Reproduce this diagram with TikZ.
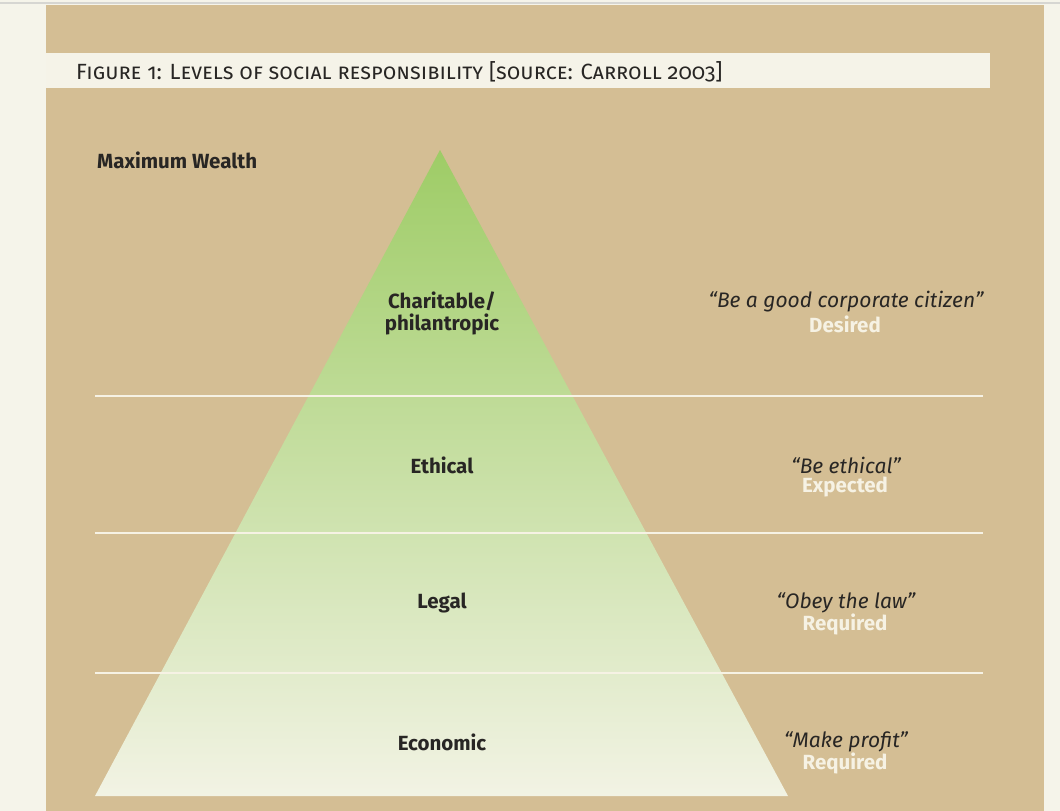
\documentclass[tikz,border=0pt]{standalone}
\usepackage{fontspec}
\setmainfont{Fira Sans}
\definecolor{pagebg}{RGB}{245,244,234}
\definecolor{rulegray}{RGB}{214,214,210}
\definecolor{panel}{RGB}{212,190,148}
\definecolor{strip}{RGB}{245,243,232}
\definecolor{ink}{RGB}{40,38,36}
\definecolor{paleword}{RGB}{246,242,228}
\definecolor{apexgreen}{RGB}{158,204,102}
\definecolor{basegreen}{RGB}{242,243,228}
\tikzset{
  sep/.style={draw=paleword, line width=2pt},
  level/.style={font=\fontsize{20.5}{22}\selectfont\bfseries, text=ink, align=center, inner sep=0pt},
  motto/.style={font=\fontsize{21}{24}\selectfont\itshape, text=ink, inner sep=0pt},
  demand/.style={font=\fontsize{20.5}{24}\selectfont\bfseries, text=paleword, inner sep=0pt},
  heading/.style={font=\fontsize{22}{26}\selectfont\addfontfeatures{Numbers=OldStyle}, text=ink, inner sep=0pt}
}
\begin{document}
\begin{tikzpicture}[x=1pt,y=-1pt]
\useasboundingbox (0,0) rectangle (1060,811);
% page, panel and caption strip
\fill[pagebg] (0,0) rectangle (1060,811);
\fill[rulegray] (0,2) rectangle (1060,4);
\fill[panel] (46,5) rectangle (1044,811);
\fill[strip] (46,53) rectangle (990,88);
\node[heading, anchor=west] (title) at (76,72) {\textsc{Figure 1: Levels of social responsibility [source: Carroll 2003]}};
% pyramid
\shade[top color=apexgreen, bottom color=basegreen] (440,150) -- (788,796) -- (95,796) -- cycle;
% level separators
\draw[sep] (95,396) -- (983,396);
\draw[sep] (95,533) -- (983,533);
\draw[sep] (95,673) -- (983,673);
% labels
\node[level, anchor=west] (maxw) at (97,160) {Maximum Wealth};
\node[level] (charit) at (442,313) {Charitable/\\philantropic};
\node[level] (ethic) at (442,465) {Ethical};
\node[level] (legal) at (442,603) {Legal};
\node[level] (econ) at (442,742) {Economic};
\node[motto] (m1) at (846,302) {“Be a good corporate citizen”};
\node[demand] (d1) at (845,324) {Desired};
\node[motto] (m2) at (846,465) {“Be ethical”};
\node[demand] (d2) at (845,487) {Expected};
\node[motto] (m3) at (846,603) {“Obey the law”};
\node[demand] (d3) at (845,624) {Required};
\node[motto] (m4) at (846,742) {“Make profit”};
\node[demand] (d4) at (845,763) {Required};
\end{tikzpicture}
\end{document}
